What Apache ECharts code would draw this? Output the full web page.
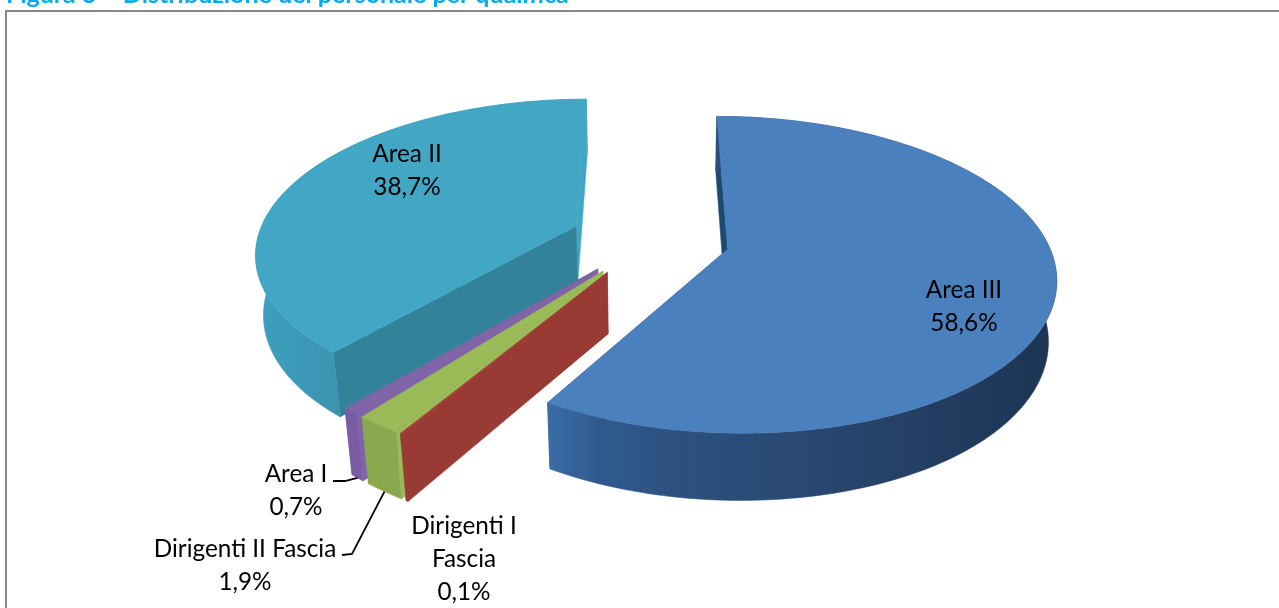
<!DOCTYPE html>
<html>
<head>
<meta charset="utf-8">
<style>
  html, body { margin: 0; padding: 0; background: #fff; }
  #chart { width: 1279px; height: 608px; }
</style>
<script src="https://cdn.jsdelivr.net/npm/echarts@6/dist/echarts.min.js"></script>
</head>
<body>
<div id="chart"></div>
<script>
// clockwise from 12 o'clock
var categories = ["Area III", "Dirigenti I Fascia", "Dirigenti II Fascia", "Area I", "Area II"];
var values = [58.6, 0.1, 1.9, 0.7, 38.7];
var titleText = "Figura 3 – Distribuzione del personale per qualifica";

// where the text goes, one per category
var labelLines = [
  ["Area III"],
  ["Dirigenti I", "Fascia"],
  ["Dirigenti II Fascia"],
  ["Area I"],
  ["Area II"]
];
var labelPos = [[964, 290], [464, 526], [245, 549], [296, 474], [407, 154]];
var leaderElbow = [null, null, [[342, 555], [352, 554]], [[333, 481], [345, 481]], null];

var colors = [
  {
    top: "#4a80bd", start: "#1b4a72", end: "#1b4a72",
    rim: [[0, "#3a6ca6"], [0.1, "#305a8e"], [0.3, "#2c4f7c"], [0.5, "#294872"], [1, "#1c3452"]]
  },
  { top: "#a53c36", start: "#9a3a34", end: "#9a3a34", rim: [[0, "#953735"], [1, "#953735"]] },
  { top: "#9bbb59", start: "#9bbb59", end: "#9bbb59", rim: [[0, "#8aa84e"], [1, "#8aa84e"]] },
  { top: "#8064a8", start: "#8064a8", end: "#8064a8", rim: [[0, "#7a5ca4"], [1, "#7a5ca4"]] },
  {
    top: "#42a6c5", start: "#32829a", end: "#42a6c5",
    rim: [[0, "#3f9fbf"], [0.27, "#3a93b0"], [0.3, "#42a6c5"], [1, "#42a6c5"]]
  }
];

// projection of the exploded pie
var cx = 650, cy = 239, rx = 319, ry = 151, depth = 61;
var persp = 0.16, perspDown = 0.02, explode = 0.25;

var total = values.reduce(function (a, b) { return a + b; }, 0);
var slices = [];
var acc = 0;
values.forEach(function (v) {
  var a0 = acc / total * Math.PI * 2;
  acc += v;
  var a1 = acc / total * Math.PI * 2;
  slices.push({ a0: a0, a1: a1, mid: (a0 + a1) / 2 });
});

function project(slice, ang, r, d) {
  var X = Math.sin(slice.mid) * explode + Math.sin(ang) * r;
  var Y = -Math.cos(slice.mid) * explode - Math.cos(ang) * r;
  var w = 1 - persp * Y + perspDown * d;
  return [cx + rx * X / w, cy + (ry * Y + depth * d) / w];
}

function arcPoints(slice, d, reverse) {
  var n = Math.max(2, Math.ceil((slice.a1 - slice.a0) / 0.02));
  var pts = [];
  for (var i = 0; i <= n; i++) {
    var t = reverse ? 1 - i / n : i / n;
    pts.push(project(slice, slice.a0 + (slice.a1 - slice.a0) * t, 1, d));
  }
  return pts;
}

function poly(points, fill, z2) {
  return { type: "polygon", shape: { points: points }, style: { fill: fill, stroke: fill, lineWidth: 0.5 }, z2: z2 };
}

function renderSlice(params, api) {
  var idx = categories.length - 1 - params.dataIndex;
  var s = slices[idx];
  var c = colors[idx];
  var val = api.value(0);
  var children = [];

  // radial faces then outer wall then top
  var tipT = project(s, 0, 0, 0), tipB = project(s, 0, 0, 1);
  children.push(poly([tipT, project(s, s.a1, 1, 0), project(s, s.a1, 1, 1), tipB], c.end, 1));
  children.push(poly([tipT, project(s, s.a0, 1, 0), project(s, s.a0, 1, 1), tipB], c.start, 2));
  children.push(poly(arcPoints(s, 0, false).concat(arcPoints(s, 1, true)), {
    type: "linear", x: 0, y: 0, x2: 1, y2: 0,
    colorStops: c.rim.map(function (r) { return { offset: r[0], color: r[1] }; })
  }, 3));
  children.push(poly([tipT].concat(arcPoints(s, 0, false)), c.top, 4));

  // text
  var lines = labelLines[idx].concat([val.toFixed(1).replace(".", ",") + "%"]);
  lines.forEach(function (line, i) {
    children.push({
      type: "text",
      z2: 10,
      style: {
        text: line,
        x: labelPos[idx][0],
        y: labelPos[idx][1] + i * 33,
        fill: "#000",
        font: "24.3px Lato",
        textAlign: "center",
        textVerticalAlign: "middle"
      }
    });
  });

  // leader line for the small slices
  if (leaderElbow[idx]) {
    var end = project(s, s.mid, 1, 1);
    children.push({
      type: "polyline",
      z2: 9,
      shape: { points: leaderElbow[idx].concat([end]) },
      style: { stroke: "#000", lineWidth: 1.8, fill: null }
    });
  }
  return { type: "group", children: children };
}

var chart = echarts.init(document.getElementById("chart"));
chart.setOption({
  animation: false,
  backgroundColor: "#fff",
  graphic: [
    {
      type: "rect",
      shape: { x: 6, y: 11, width: 1400, height: 800 },
      style: { fill: "none", stroke: "#888", lineWidth: 2 },
      z: -1
    },
    {
      type: "text",
      style: { text: titleText, x: 6, y: -5, fill: "#00aeef", font: "bold 25px Lato", textVerticalAlign: "middle" }
    }
  ],
  series: [{
    type: "custom",
    coordinateSystem: "none",
    renderItem: renderSlice,
    data: values.slice().reverse().map(function (v) { return [v]; })
  }]
});
</script>
</body>
</html>
